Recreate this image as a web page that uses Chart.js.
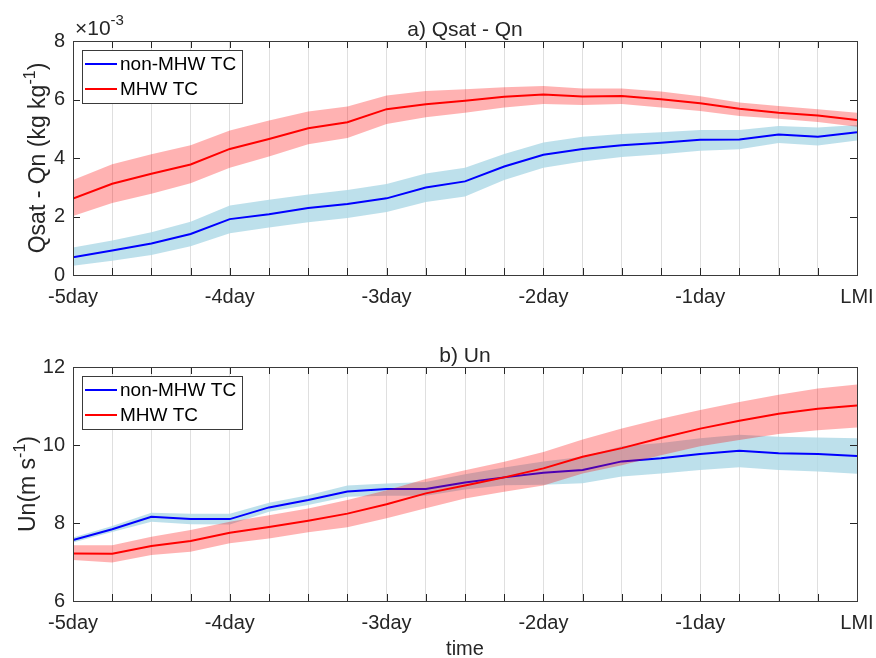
<!DOCTYPE html>
<html><head><meta charset="utf-8">
<script src="https://cdn.jsdelivr.net/npm/chart.js@4/dist/chart.umd.min.js"></script>
<style>
html,body{margin:0;padding:0;background:#fff;}
#wrap{position:relative;width:876px;height:658px;overflow:hidden;background:#fff;}
canvas{position:absolute;left:0;}
</style></head><body>
<div id="wrap">
<canvas id="ca" width="876" height="329" style="top:0;width:876px;height:329px"></canvas>
<canvas id="cb" width="876" height="329" style="top:329px;width:876px;height:329px"></canvas>
</div>
<script>
// ---------- data ----------
const times = [-5,-4.75,-4.5,-4.25,-4,-3.75,-3.5,-3.25,-3,-2.75,-2.5,-2.25,-2,-1.75,-1.5,-1.25,-1,-0.75,-0.5,-0.25,0];
const xTickLabels = ['-5day','-4day','-3day','-2day','-1day','LMI'];
const seriesNames = ['non-MHW TC','MHW TC'];

// panel a: Qsat - Qn (units of 1e-3 kg/kg)
const qNonMean  = [0.61,0.84,1.08,1.40,1.91,2.08,2.29,2.43,2.62,2.99,3.20,3.71,4.11,4.31,4.44,4.52,4.62,4.63,4.80,4.73,4.88];
const qNonUpper = [0.94,1.18,1.46,1.82,2.38,2.57,2.75,2.91,3.11,3.47,3.67,4.14,4.53,4.73,4.82,4.88,4.96,4.96,5.09,5.04,5.13];
const qNonLower = [0.32,0.49,0.68,0.98,1.43,1.62,1.80,1.95,2.15,2.50,2.68,3.25,3.67,3.88,4.03,4.13,4.25,4.30,4.51,4.43,4.60];
const qMhwMean  = [2.61,3.12,3.46,3.78,4.31,4.65,5.02,5.22,5.67,5.84,5.96,6.09,6.17,6.10,6.12,6.01,5.87,5.68,5.55,5.45,5.30];
const qMhwUpper = [3.25,3.79,4.13,4.44,4.94,5.28,5.59,5.76,6.14,6.29,6.35,6.42,6.46,6.38,6.38,6.27,6.11,5.90,5.78,5.67,5.55];
const qMhwLower = [2.02,2.46,2.78,3.14,3.67,4.05,4.47,4.68,5.16,5.39,5.55,5.73,5.85,5.81,5.85,5.73,5.61,5.44,5.34,5.23,5.07];
const qTicks = [0,2,4,6,8];

// panel b: Un (m/s)
const uNonMean  = [7.56,7.84,8.16,8.10,8.10,8.40,8.59,8.81,8.87,8.87,9.04,9.17,9.29,9.36,9.58,9.66,9.77,9.85,9.79,9.77,9.72];
const uNonUpper = [7.63,7.92,8.26,8.24,8.24,8.52,8.71,8.96,9.01,9.05,9.25,9.42,9.58,9.70,9.97,10.05,10.17,10.26,10.21,10.19,10.17];
const uNonLower = [7.50,7.77,8.03,7.97,7.96,8.29,8.46,8.67,8.70,8.70,8.86,8.97,8.98,9.02,9.19,9.27,9.36,9.43,9.36,9.32,9.26];
const uMhwMean  = [7.22,7.21,7.41,7.54,7.75,7.90,8.06,8.24,8.48,8.76,8.96,9.17,9.40,9.70,9.92,10.18,10.42,10.62,10.80,10.93,11.01];
const uMhwUpper = [7.43,7.43,7.65,7.82,8.03,8.20,8.37,8.59,8.84,9.13,9.35,9.57,9.82,10.14,10.42,10.67,10.90,11.10,11.29,11.45,11.55];
const uMhwLower = [7.05,6.99,7.18,7.26,7.48,7.60,7.76,7.89,8.12,8.38,8.63,8.80,8.96,9.27,9.48,9.74,9.97,10.13,10.28,10.38,10.45];
const uTicks = [6,8,10,12];

// ---------- styling ----------
const FONT = "'Liberation Sans', Arial, Helvetica, sans-serif";
const AX = '#262626';
const BLUE = '#0000ff', RED = '#ff0000';
const BLUE_BAND = 'rgba(173,216,230,0.8)';
const RED_BAND = 'rgba(255,0,0,0.3)';

function pts(arr){ return times.map((t,i)=>({x:t, y:arr[i]})); }

function makeDatasets(nm, nu, nl, mm, mu, ml){
  return [
    {label:'nu', data:pts(nu), borderWidth:0, pointRadius:0, fill:1, backgroundColor:BLUE_BAND, order:4},
    {label:'nl', data:pts(nl), borderWidth:0, pointRadius:0, fill:false, order:4},
    {label:seriesNames[0], data:pts(nm), borderColor:BLUE, borderWidth:2, pointRadius:0, fill:false, order:3},
    {label:'mu', data:pts(mu), borderWidth:0, pointRadius:0, fill:4, backgroundColor:RED_BAND, order:2},
    {label:'ml', data:pts(ml), borderWidth:0, pointRadius:0, fill:false, order:2},
    {label:seriesNames[1], data:pts(mm), borderColor:RED, borderWidth:2, pointRadius:0, fill:false, order:1}
  ];
}

function drawRich(ctx, parts, x, y, rotated){
  ctx.save();
  ctx.translate(x, y);
  if (rotated) ctx.rotate(-Math.PI/2);
  let total = 0;
  parts.forEach(p=>{ ctx.font = p.size+'px '+FONT; p.w = ctx.measureText(p.t).width; total += p.w; });
  let cx = rotated ? -total/2 : 0;
  ctx.fillStyle = AX;
  ctx.textBaseline = 'alphabetic';
  ctx.textAlign = 'left';
  parts.forEach(p=>{ ctx.font = p.size+'px '+FONT; ctx.fillText(p.t, cx, -(p.rise||0)); cx += p.w; });
  ctx.restore();
}

const decor = {
  id: 'decor',
  afterDraw(chart, args, o){
    const ctx = chart.ctx, a = chart.chartArea;
    const xs = chart.scales.x, ys = chart.scales.y;
    ctx.save();
    // inward ticks
    ctx.strokeStyle = AX; ctx.lineWidth = 1;
    ctx.beginPath();
    times.forEach(t=>{
      const px = Math.round(xs.getPixelForValue(t)) + 0.5;
      ctx.moveTo(px, a.bottom); ctx.lineTo(px, a.bottom - 7);
      ctx.moveTo(px, a.top); ctx.lineTo(px, a.top + 7);
    });
    o.yTicks.forEach(v=>{
      const py = Math.round(ys.getPixelForValue(v)) + 0.5;
      ctx.moveTo(a.left, py); ctx.lineTo(a.left + 7, py);
      ctx.moveTo(a.right, py); ctx.lineTo(a.right - 7, py);
    });
    ctx.stroke();
    // box
    ctx.strokeStyle = '#3a3a3a';
    ctx.strokeRect(Math.round(a.left)+0.5, Math.round(a.top)+0.5, Math.round(a.right-a.left), Math.round(a.bottom-a.top));
    // legend
    const lx = a.left + 9, ly = a.top + 9, lw = 160, lh = 53;
    ctx.fillStyle = '#fff';
    ctx.fillRect(lx, ly, lw, lh);
    ctx.strokeStyle = '#3a3a3a';
    ctx.strokeRect(lx+0.5, ly+0.5, lw, lh);
    const rows = [[seriesNames[0], BLUE, ly+14], [seriesNames[1], RED, ly+39]];
    rows.forEach(r=>{
      ctx.strokeStyle = r[1]; ctx.lineWidth = 2;
      ctx.beginPath(); ctx.moveTo(lx+3, r[2]); ctx.lineTo(lx+35, r[2]); ctx.stroke();
      ctx.fillStyle = '#000'; ctx.font = '19px '+FONT; ctx.textBaseline = 'middle'; ctx.textAlign='left';
      ctx.fillText(r[0], lx+38, r[2]+1);
    });
    // title
    ctx.fillStyle = AX; ctx.font = '21px '+FONT; ctx.textAlign = 'center'; ctx.textBaseline = 'alphabetic';
    ctx.fillText(o.title, (a.left+a.right)/2, o.titleY);
    ctx.restore();
    // y label
    drawRich(ctx, o.yLabel, o.yLabelX, (a.top+a.bottom)/2, true);
    if (o.exp) drawRich(ctx, o.exp, 75, 35, false);
    if (o.xLabel){
      ctx.save(); ctx.fillStyle = AX; ctx.font = '20px '+FONT; ctx.textAlign='center'; ctx.textBaseline='alphabetic';
      ctx.fillText(o.xLabel, (a.left+a.right)/2, 326); ctx.restore();
    }
  }
};

function makeChart(id, ds, yMin, yMax, yTicks, padTop, xHeight, decorOpts){
  return new Chart(document.getElementById(id), {
    type: 'line',
    data: { datasets: ds },
    options: {
      responsive: false, animation: false, devicePixelRatio: 1,
      layout: { padding: { left: 0, right: 19, top: padTop, bottom: 0 } },
      plugins: { legend: {display:false}, tooltip: {enabled:false}, title:{display:false}, decor: decorOpts,
                 filler: { propagate: false } },
      elements: { line: { tension: 0 } },
      scales: {
        x: {
          type: 'linear', min: -5, max: 0,
          afterFit: s => { s.height = xHeight; s.paddingLeft = 0; s.paddingRight = 0; },
          grid: { display: true, drawTicks: false, color: '#dfdfdf', lineWidth: 1 },
          border: { display: false },
          ticks: {
            stepSize: 0.25, autoSkip: false, maxRotation: 0, minRotation: 0, padding: 10,
            color: AX, font: { family: FONT, size: 20 },
            callback: v => Number.isInteger(v) ? xTickLabels[v + 5] : ''
          }
        },
        y: {
          min: yMin, max: yMax,
          afterFit: s => { s.width = 73; s.paddingTop = 0; s.paddingBottom = 0; },
          grid: { display: false, drawTicks: false },
          border: { display: false },
          ticks: { stepSize: 2, padding: 8, color: AX, font: { family: FONT, size: 20 },
                   callback: v => yTicks.includes(v) ? String(v) : '' }
        }
      }
    },
    plugins: [decor]
  });
}

makeChart('ca', makeDatasets(qNonMean,qNonUpper,qNonLower,qMhwMean,qMhwUpper,qMhwLower), 0, 8, qTicks, 41, 54, {
  title: 'a) Qsat - Qn', titleY: 36, yTicks: qTicks, yLabelX: 45,
  yLabel: [{t:'Qsat - Qn (kg kg', size:23}, {t:'-1', size:16, rise:10}, {t:')', size:23}],
  exp: [{t:'\u00d710', size:21}, {t:'-3', size:15, rise:10}]
});
makeChart('cb', makeDatasets(uNonMean,uNonUpper,uNonLower,uMhwMean,uMhwUpper,uMhwLower), 6, 12, uTicks, 38, 57, {
  title: 'b) Un', titleY: 33, yTicks: uTicks, yLabelX: 35,
  yLabel: [{t:'Un(m s', size:23}, {t:'-1', size:16, rise:10}, {t:')', size:23}],
  xLabel: 'time'
});
</script>
</body></html>
